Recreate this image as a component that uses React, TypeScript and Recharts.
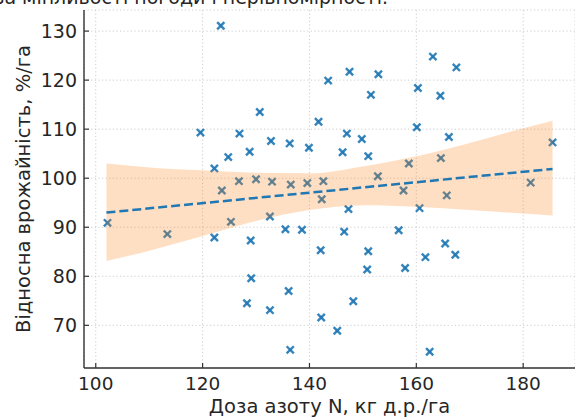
import {
  CartesianGrid,
  ComposedChart,
  Area,
  Line,
  Scatter,
  XAxis,
  YAxis,
} from "recharts";

// observations: N dose vs relative yield
const pointX = [
  123.4, 119.6, 122.2, 124.8, 126.9, 128.8, 130.7, 132.8, 136.3, 139.9,
  141.7, 143.5, 123.6, 126.8, 130.0, 133.0, 136.5, 139.6, 142.6, 142.3,
  147.5, 152.9, 151.5, 147.0, 149.8, 146.2, 151.0, 152.8, 158.6, 160.1,
  160.3, 163.1, 164.5, 167.5, 166.1, 164.6, 157.6, 165.7, 181.4, 185.5,
  147.3, 160.6, 102.2, 113.4, 122.2, 125.3, 129.0, 132.6, 135.5, 138.6,
  142.1, 129.1, 128.3, 132.6, 136.1, 142.2, 136.4, 146.5, 151.0, 150.8,
  156.7, 157.9, 161.7, 165.4, 167.3, 148.2, 145.2, 162.5,
];
const pointY = [
  131.1, 109.3, 102.0, 104.3, 109.1, 105.4, 113.5, 107.6, 107.1, 106.2,
  111.5, 119.9, 97.5, 99.4, 99.8, 99.3, 98.7, 99.0, 99.4, 95.7,
  121.7, 121.2, 117.0, 109.1, 108.0, 105.3, 104.5, 100.4, 103.0, 110.4,
  118.4, 124.8, 116.8, 122.6, 108.4, 104.1, 97.5, 96.5, 99.1, 107.3,
  93.7, 93.9, 90.9, 88.6, 87.9, 91.1, 87.3, 92.2, 89.6, 89.5,
  85.3, 79.6, 74.5, 73.1, 77.0, 71.6, 65.0, 89.1, 85.1, 81.4,
  89.4, 81.7, 83.9, 86.7, 84.4, 74.9, 68.9, 64.6,
];

// confidence band
const bandX = [102, 110, 120, 130, 140, 150, 160, 170, 180, 185.5];
const bandLow = [83.1, 85.2, 88.2, 91.3, 93.5, 94.5, 94.2, 93.5, 92.8, 92.4];
const bandHigh = [103.0, 102.2, 101.6, 101.1, 101.0, 102.4, 104.5, 107.2, 110.2, 111.7];

// fitted trend
const fitX = [102, 185.5];
const fitY = [93.0, 101.9];

const xTicks = [100, 120, 140, 160, 180];
const yTicks = [70, 80, 90, 100, 110, 120, 130];

const points = pointX.map((x, i) => ({ x, y: pointY[i] }));
const band = bandX.map((x, i) => ({ x, range: [bandLow[i], bandHigh[i]] }));
const fit = fitX.map((x, i) => ({ x, fit: fitY[i] }));

const BLUE = "#1f77b4";
const INK = "#262626";
const FONT = "'DejaVu Sans', sans-serif";

function Cross(props: any) {
  const { cx, cy } = props;
  const r = 3.6;
  return (
    <g stroke={BLUE} strokeWidth={2.4} strokeOpacity={0.9}>
      <line x1={cx - r} y1={cy - r} x2={cx + r} y2={cy + r} />
      <line x1={cx - r} y1={cy + r} x2={cx + r} y2={cy - r} />
    </g>
  );
}

function YTick(props: any) {
  const { x, y, payload } = props;
  const ax = x + 7;
  return (
    <g>
      <line x1={ax} x2={ax + 5} y1={y} y2={y} stroke="#333" strokeWidth={1.2} />
      <text x={x} y={y} dy="0.36em" textAnchor="end" fontSize={19} fill={INK} fontFamily={FONT}>
        {payload.value}
      </text>
    </g>
  );
}

function XTick(props: any) {
  const { x, y, payload } = props;
  const ay = y - 9;
  return (
    <g>
      <line x1={x} x2={x} y1={ay} y2={ay - 5} stroke="#333" strokeWidth={1.2} />
      <text x={x} y={y} dy="0.7em" textAnchor="middle" fontSize={18.5} fill={INK} fontFamily={FONT}>
        {payload.value}
      </text>
    </g>
  );
}

export default function App() {
  return (
    <div style={{ position: "absolute", left: 0, top: 0, width: 575, height: 418, fontFamily: FONT }}>
      <svg width={575} height={20} style={{ position: "absolute", left: 0, top: 0 }}>
        <text x={388} y={4} textAnchor="end" fontSize={19} fill={INK} fontFamily={FONT}>
          Вплив дози азоту на відносну врожайність за мінливості погоди і нерівномірності.
        </text>
      </svg>
      <ComposedChart
        width={575}
        height={418}
        margin={{ top: 10, right: 0, bottom: 0, left: 0 }}
        style={{ position: "absolute", left: 0, top: 0 }}
      >
        <CartesianGrid stroke="#c8c8c8" strokeWidth={0.9} strokeDasharray="1.2 2.4" />
        <XAxis
          type="number"
          dataKey="x"
          domain={[97.8, 189.7]}
          ticks={xTicks}
          allowDataOverflow
          height={50}
          tickSize={0}
          tickMargin={9}
          tick={<XTick />}
          axisLine={{ stroke: "#333", strokeWidth: 1.4 }}
          label={{
            value: "Доза азоту N, кг д.р./га",
            position: "insideBottom",
            offset: 5,
            fontSize: 19.5,
            fill: INK,
            fontFamily: FONT,
          }}
        />
        <YAxis
          type="number"
          domain={[61.3, 134.3]}
          ticks={yTicks}
          allowDataOverflow
          width={84}
          tickSize={0}
          tickMargin={7}
          tick={<YTick />}
          axisLine={{ stroke: "#333", strokeWidth: 1.4 }}
          label={{
            value: "Відносна врожайність, %/га",
            angle: -90,
            position: "insideLeft",
            offset: 23,
            fontSize: 19.5,
            fill: INK,
            fontFamily: FONT,
            style: { textAnchor: "middle" },
          }}
        />
        <Scatter data={points} dataKey="y" shape={<Cross />} isAnimationActive={false} zIndex={50} />
        <Area
          data={band}
          dataKey="range"
          type="monotone"
          stroke="none"
          fill="#ff7f0e"
          fillOpacity={0.25}
          isAnimationActive={false}
          zIndex={700}
        />
        <Line
          data={fit}
          dataKey="fit"
          type="linear"
          stroke={BLUE}
          strokeWidth={2.5}
          strokeDasharray="9 4"
          dot={false}
          activeDot={false}
          isAnimationActive={false}
          zIndex={800}
        />
      </ComposedChart>
    </div>
  );
}
